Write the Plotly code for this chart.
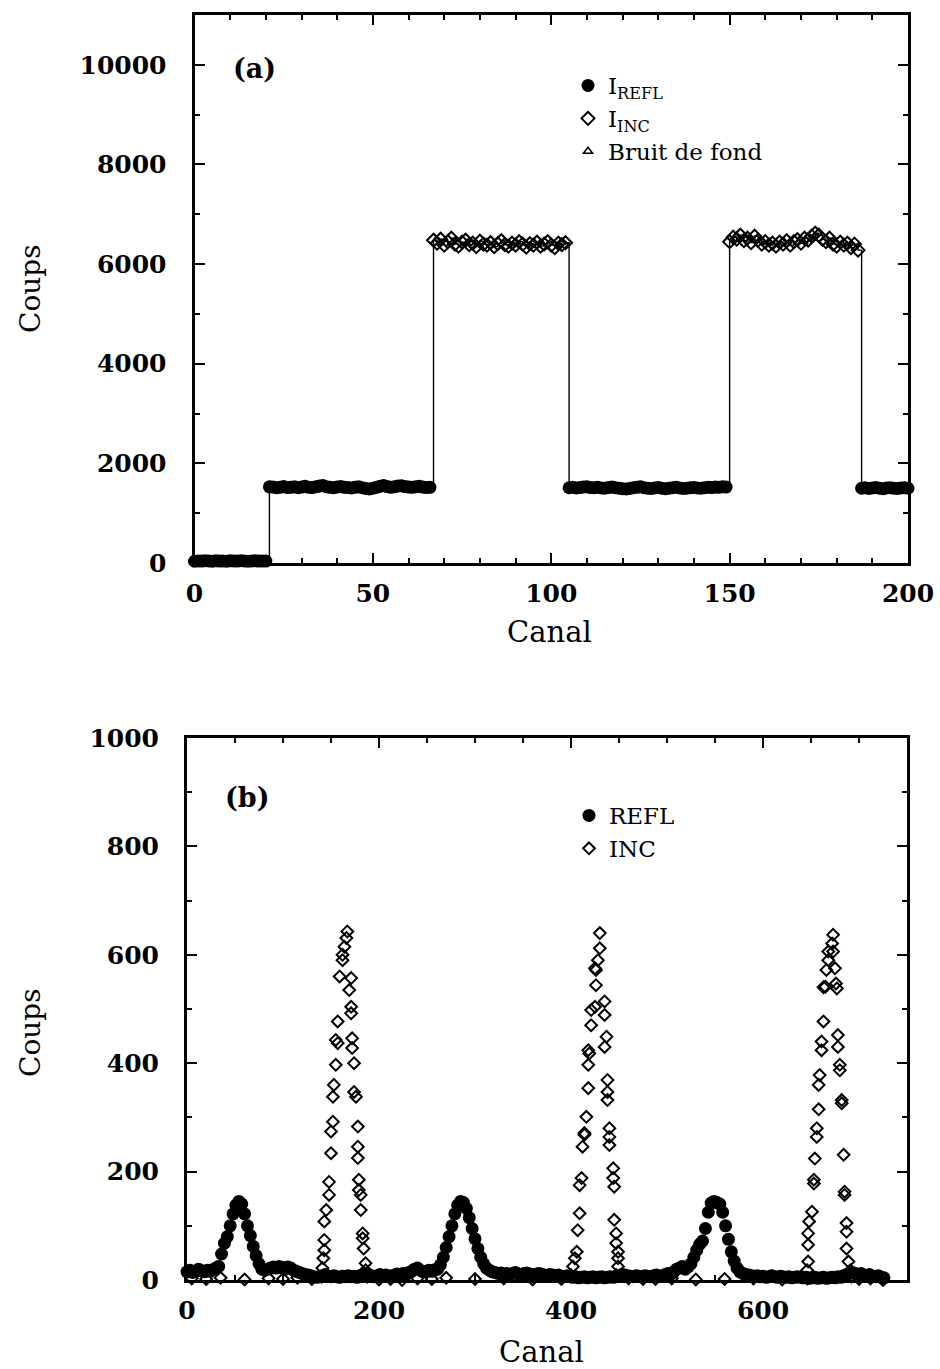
import plotly.graph_objects as go

FONT = "DejaVu Serif"
W, H = 940, 1369

# ---------------- Panel (a) data ----------------
a_zero_start = 0
a_refl_zero = [35, 42, 38, 45, 40, 36, 44, 39, 41, 37, 43, 40, 38, 45, 42, 36, 40, 44, 39, 41, 38]
a_refl1_start = 21
a_refl1 = [1530, 1525, 1510, 1520, 1535, 1515, 1520, 1530, 1510, 1525,
           1540, 1520, 1515, 1530, 1545, 1555, 1530, 1520, 1510, 1525,
           1535, 1520, 1515, 1505, 1520, 1530, 1510, 1495, 1485, 1500,
           1520, 1540, 1555, 1535, 1520, 1530, 1545, 1550, 1535, 1525,
           1520, 1530, 1540, 1525, 1515, 1520]
a_inc1_start = 67
a_inc1 = [6480, 6420, 6500, 6380, 6450, 6520, 6400, 6360, 6440, 6480,
          6390, 6420, 6350, 6460, 6400, 6380, 6430, 6350, 6410, 6470,
          6390, 6360, 6420, 6380, 6450, 6400, 6340, 6410, 6380, 6440,
          6360, 6400, 6450, 6380, 6330, 6420, 6390, 6430]
a_refl2_start = 105
a_refl2 = [1510, 1520, 1505, 1515, 1525, 1530, 1515, 1510, 1520, 1505,
           1500, 1515, 1525, 1510, 1500, 1490, 1485, 1495, 1510, 1520,
           1530, 1510, 1500, 1495, 1505, 1515, 1500, 1490, 1500, 1510,
           1520, 1505, 1495, 1500, 1510, 1515, 1505, 1500, 1510, 1520,
           1515, 1525, 1520, 1530, 1525]
a_inc2_start = 150
a_inc2 = [6450, 6540, 6500, 6580, 6470, 6520, 6430, 6560, 6480, 6400,
          6450, 6380, 6420, 6360, 6440, 6400, 6470, 6380, 6450, 6490,
          6420, 6520, 6480, 6560, 6620, 6580, 6500, 6450, 6520, 6400,
          6360, 6440, 6380, 6420, 6330, 6400, 6280]
a_refl3_start = 187
a_refl3 = [1500, 1510, 1495, 1505, 1515, 1500, 1490, 1505, 1510, 1500, 1495, 1505, 1510, 1500]
a_bruit_x = [0, 2, 4, 6, 8, 10, 12, 14, 16, 18, 20]
a_bruit = [15, 20, 10, 25, 18, 12, 22, 16, 20, 14, 18]

# ---------------- Panel (b) data ----------------
B_STEP = 3
b_refl_segments = [
    (0,   [15, 18, 14, 16, 20, 17, 15, 18, 16, 19, 22]),
    (33,  [25, 48, 68, 80, 100, 122, 138, 145, 140, 122, 100, 82, 62, 45, 30, 20, 18]),
    (84,  [20, 22, 24, 22, 25, 23, 20, 24, 22, 18, 16, 14, 12]),
    (123, [10, 9, 8, 6, 5, 6, 8, 10, 7, 6, 8, 6, 5, 7, 6, 8, 6, 7, 5, 8,
           10, 12, 10, 8, 6, 8, 10, 7, 9, 8, 6, 9, 11, 10, 12, 10, 14, 16, 20, 22,
           18, 15, 16, 18, 16, 19]),
    (261, [20, 28, 42, 60, 80, 100, 122, 138, 145, 143, 132, 115, 95, 76, 58, 42, 30, 22, 18, 15]),
    (321, [14, 12, 13, 11, 12, 10, 12, 14, 11, 10, 12, 13, 11, 9, 10, 12, 11, 9, 8, 10,
           9, 8, 9, 7, 6, 8, 6, 5, 6, 4, 5, 6, 4, 5, 6, 4, 5, 6, 4, 5,
           6, 5, 6, 8, 10, 9, 8, 7, 6, 8, 7, 6, 8, 7, 6, 8, 9, 7, 8, 10,
           12, 11, 15, 20]),
    (513, [22, 25, 20, 24, 30, 42, 55, 66, 72, 95, 125, 142, 145, 143, 140, 125, 100, 75, 52, 35,
           22, 15, 12]),
    (582, [10, 9, 8, 7, 8, 6, 7, 5, 6, 8, 6, 5, 7, 6, 5, 6, 4, 5, 6, 5,
           4, 5, 3, 4, 5, 3, 4, 5, 3, 4, 5, 4, 6, 5, 8, 10, 12, 14, 12, 10,
           12, 9, 8, 10, 7, 6, 8, 5, 4]),
]

b_inc_p1_x = [140, 141, 142, 143, 143, 143, 145, 148, 148, 150, 150, 152, 152, 153, 155, 157, 155, 157,
              159, 162, 162, 164, 166, 167,
              171, 169, 171, 171, 172, 172, 174, 174, 176, 178, 178, 178, 179, 179, 181, 181, 183, 183,
              184, 186, 186, 188]
b_inc_p1_y = [6, 22, 40, 55, 74, 108, 129, 157, 181, 234, 274, 292, 338, 360, 397, 437, 443, 477,
              560, 590, 600, 615, 631, 643,
              557, 535, 504, 492, 446, 428, 400, 347, 338, 283, 246, 225, 185, 166, 157, 129, 86, 77,
              58, 31, 18, 6]
b_inc_p2_x = [400, 402, 404, 406, 407, 409, 409, 411, 412, 414, 414, 416, 418, 418, 419, 418, 421, 421,
              425, 426, 426, 425, 428, 430, 430,
              435, 435, 437, 435, 438, 438, 438, 440, 440, 440, 444, 444, 445, 445, 447, 447, 449, 449,
              449, 447]
b_inc_p2_y = [9, 25, 40, 52, 92, 123, 175, 188, 246, 268, 271, 301, 354, 397, 418, 424, 470, 498,
              504, 544, 572, 575, 590, 612, 640,
              514, 489, 449, 430, 369, 347, 332, 280, 264, 249, 206, 188, 172, 111, 86, 68, 52, 40,
              25, 9]
b_inc_p3_x = [646, 646, 647, 647, 647, 648, 651, 653, 653, 654, 656, 656, 658, 658, 659, 661, 661, 663,
              663, 665, 666, 668, 668, 672, 673,
              673, 675, 677, 676, 678, 678, 680, 680, 682, 682, 684, 685, 685, 687, 687, 687, 689, 691,
              692]
b_inc_p3_y = [3, 18, 34, 65, 86, 108, 126, 178, 185, 224, 264, 280, 315, 360, 378, 424, 440, 477,
              540, 541, 572, 590, 606, 621, 637,
              606, 575, 538, 547, 452, 430, 397, 387, 332, 326, 231, 163, 157, 105, 89, 58, 34, 18,
              6]
b_inc_base_x = [5, 20, 35, 60, 85, 100, 115, 130, 200, 212, 224, 240, 255, 270, 300, 330, 360, 390,
                460, 475, 488, 505, 530, 560, 590, 620, 700, 712, 725]
b_inc_base_y = [3, 2, 4, 1, 3, 2, 4, 2, 1, 2, 0, 3, 2, 4, 2, 3, 1, 2,
                3, 2, 2, 3, 1, 2, 3, 1, 2, 3, 0]

# ---------------- build series ----------------
def seg(start, vals, step=1):
    return [start + step * i for i in range(len(vals))], list(vals)

a_segs = [seg(a_zero_start, a_refl_zero), seg(a_refl1_start, a_refl1), seg(a_inc1_start, a_inc1),
          seg(a_refl2_start, a_refl2), seg(a_inc2_start, a_inc2), seg(a_refl3_start, a_refl3)]
line_x, line_y = [], []
for sx, sy in a_segs:
    line_x += sx
    line_y += sy
a_refl_x, a_refl_y = [], []
for k in (0, 1, 3, 5):
    a_refl_x += a_segs[k][0]
    a_refl_y += a_segs[k][1]
a_inc_x, a_inc_y = [], []
for k in (2, 4):
    a_inc_x += a_segs[k][0]
    a_inc_y += a_segs[k][1]

b_refl_x, b_refl_y = [], []
for st, vals in b_refl_segments:
    sx, sy = seg(st, vals, B_STEP)
    b_refl_x += sx
    b_refl_y += sy
b_inc_x = b_inc_base_x + b_inc_p1_x + b_inc_p2_x + b_inc_p3_x
b_inc_y = b_inc_base_y + b_inc_p1_y + b_inc_p2_y + b_inc_p3_y

fig = go.Figure()
fig.add_trace(go.Scatter(x=line_x, y=line_y, mode="lines", line=dict(color="black", width=1.4),
                         line_shape="hv", showlegend=False, xaxis="x", yaxis="y", hoverinfo="skip"))
fig.add_trace(go.Scatter(x=a_bruit_x, y=a_bruit, mode="markers", name="Bruit de fond",
                         marker=dict(symbol="triangle-up-open", size=8, color="black", line=dict(width=1.5)),
                         xaxis="x", yaxis="y", legend="legend", legendrank=3, cliponaxis=False))
fig.add_trace(go.Scatter(x=a_refl_x, y=a_refl_y, mode="markers", name="I<sub>REFL</sub>",
                         marker=dict(symbol="circle", size=13, color="black"),
                         xaxis="x", yaxis="y", legend="legend", legendrank=1, cliponaxis=False))
fig.add_trace(go.Scatter(x=a_inc_x, y=a_inc_y, mode="markers", name="I<sub>INC</sub>",
                         marker=dict(symbol="diamond-open", size=10, color="black", line=dict(width=2)),
                         xaxis="x", yaxis="y", legend="legend", legendrank=2, cliponaxis=False))

fig.add_trace(go.Scatter(x=b_inc_x, y=b_inc_y, mode="markers", name="INC",
                         marker=dict(symbol="diamond-open", size=9, color="black", line=dict(width=2)),
                         xaxis="x2", yaxis="y2", legend="legend2", legendrank=2, cliponaxis=False))
fig.add_trace(go.Scatter(x=b_refl_x, y=b_refl_y, mode="markers", name="REFL",
                         marker=dict(symbol="circle", size=13, color="black"),
                         xaxis="x2", yaxis="y2", legend="legend2", legendrank=1, cliponaxis=False))


def px(x):
    return x / W


def py(y):
    return 1 - y / H


tickfont = dict(family=FONT, size=25, color="black", weight="bold")
common = dict(showline=True, linecolor="black", linewidth=3, mirror="ticks", ticks="inside",
              tickwidth=2, ticklen=10, tickcolor="black", showgrid=False, zeroline=False,
              automargin=False, tickfont=tickfont, tickformat="d")

fig.update_layout(
    width=W, height=H, template="none",
    paper_bgcolor="white", plot_bgcolor="white",
    margin=dict(l=0, r=0, t=0, b=0),
    font=dict(family=FONT, color="black"),
    xaxis=dict(domain=[px(194.5), px(908)], range=[0, 200], anchor="y", dtick=50, tick0=0,
               minor=dict(ticks="inside", dtick=10, ticklen=5, tickwidth=2, tickcolor="black"),
               ticklabelstandoff=6, **common),
    yaxis=dict(domain=[py(563), py(15)], range=[0, 11000], anchor="x", dtick=2000, tick0=0,
               minor=dict(ticks="inside", dtick=1000, ticklen=5, tickwidth=2, tickcolor="black"),
               ticklabelstandoff=20, **common),
    xaxis2=dict(domain=[px(187), px(907)], range=[0, 750], anchor="y2", dtick=200, tick0=0,
                minor=dict(ticks="inside", dtick=50, ticklen=5, tickwidth=2, tickcolor="black"),
                ticklabelstandoff=6, **common),
    yaxis2=dict(domain=[py(1280), py(738)], range=[0, 1000], anchor="x2", dtick=200, tick0=0,
                minor=dict(ticks="inside", dtick=100, ticklen=5, tickwidth=2, tickcolor="black"),
                ticklabelstandoff=20, **common),
    legend=dict(x=px(568), y=py(64), xanchor="left", yanchor="top", bgcolor="rgba(0,0,0,0)",
                font=dict(family=FONT, size=23, color="black"), borderwidth=0,
                tracegroupgap=0, itemwidth=30),
    legend2=dict(x=px(569), y=py(794), xanchor="left", yanchor="top", bgcolor="rgba(0,0,0,0)",
                 font=dict(family=FONT, size=23, color="black"), borderwidth=0,
                 tracegroupgap=0, itemwidth=30),
    annotations=[
        dict(text="<b>(a)</b>", x=px(255), y=py(68), xref="paper", yref="paper", showarrow=False,
             font=dict(family=FONT, size=27, color="black"), xanchor="center", yanchor="middle"),
        dict(text="<b>(b)</b>", x=px(247), y=py(797), xref="paper", yref="paper", showarrow=False,
             font=dict(family=FONT, size=27, color="black"), xanchor="center", yanchor="middle"),
        dict(text="Canal", x=px(549), y=py(632), xref="paper", yref="paper", showarrow=False,
             font=dict(family=FONT, size=29, color="black"), xanchor="center", yanchor="middle"),
        dict(text="Canal", x=px(541), y=py(1352), xref="paper", yref="paper", showarrow=False,
             font=dict(family=FONT, size=29, color="black"), xanchor="center", yanchor="middle"),
        dict(text="Coups", x=px(30), y=py(288), xref="paper", yref="paper", showarrow=False, textangle=-90,
             font=dict(family=FONT, size=28, color="black"), xanchor="center", yanchor="middle"),
        dict(text="Coups", x=px(30), y=py(1032), xref="paper", yref="paper", showarrow=False, textangle=-90,
             font=dict(family=FONT, size=28, color="black"), xanchor="center", yanchor="middle"),
    ],
)

fig.write_html("out.html", config={"displayModeBar": False},
               post_script="document.body.style.margin='0px';")
